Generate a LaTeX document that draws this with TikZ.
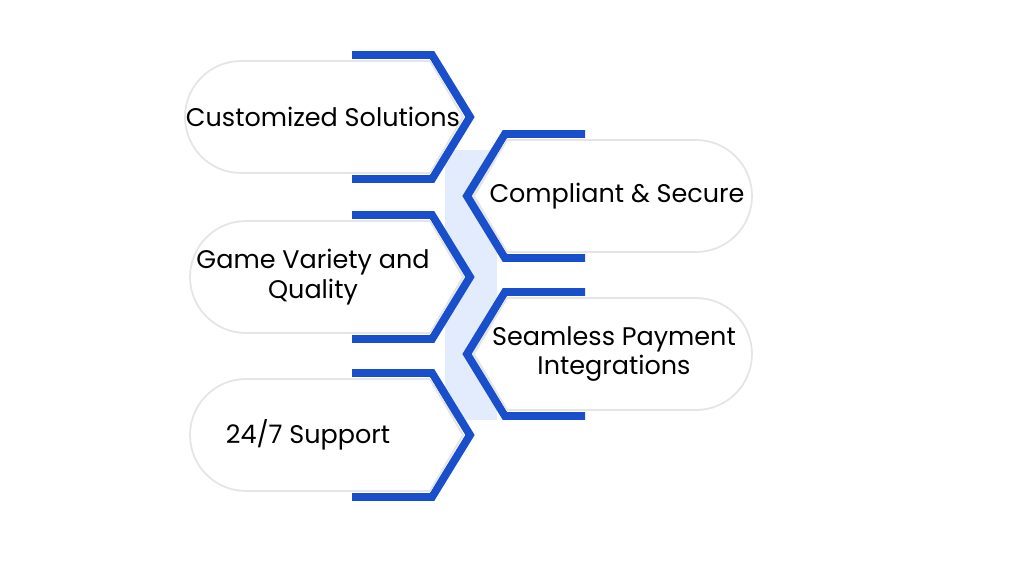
\documentclass[tikz,border=0pt]{standalone}
\usepackage{fontspec}
\setmainfont{Poppins}
\usepackage{xcolor}
\definecolor{edgeblue}{HTML}{1A4FCC}
\definecolor{paleblue}{HTML}{E3ECFC}
\tikzset{
  card/.style={fill=white, draw=black!10, line width=1pt},
  rim/.style={draw=edgeblue, line width=4.5pt, line join=miter},
  label/.style={font=\fontsize{14.5}{17}\selectfont, align=center, inner sep=0pt}
}
\newcommand{\leftcard}[3]{%
  \draw[rim] (352,#1-62) -- (432,#1-62) -- (470,#1) -- (432,#1+62) -- (352,#1+62);
  \draw[card] (#2+56,#1-56) -- (430,#1-56) -- (463,#1) -- (430,#1+56) -- (#2+56,#1+56)
    arc[start angle=270, end angle=90, x radius=56, y radius=-56] -- cycle;
}
\newcommand{\rightcard}[1]{%
  \draw[rim] (585,#1-62) -- (505,#1-62) -- (467,#1) -- (505,#1+62) -- (585,#1+62);
  \draw[card] (696,#1-56) -- (507,#1-56) -- (474,#1) -- (507,#1+56) -- (696,#1+56)
    arc[start angle=270, end angle=450, x radius=56, y radius=-56] -- cycle;
}
\begin{document}
\begin{tikzpicture}[x=0.02cm, y=-0.02cm]
\useasboundingbox (0,0) rectangle (1024,568);
% pale links between the cards
\fill[paleblue] (445,150) rectangle (497,420);
\leftcard{117}{185}{}
\rightcard{196}
\leftcard{277}{190}{}
\rightcard{354}
\leftcard{435}{190}{}
\node[label] (custom) at (323,117) {Customized Solutions};
\node[label] (secure) at (617,196) {Compliant \& Secure};
\node[label] (games) at (313,277) {Game Variety and\\Quality};
\node[label] (payment) at (614,354) {Seamless Payment\\Integrations};
\node[label] (support) at (308,435) {24/7 Support};
\end{tikzpicture}
\end{document}
